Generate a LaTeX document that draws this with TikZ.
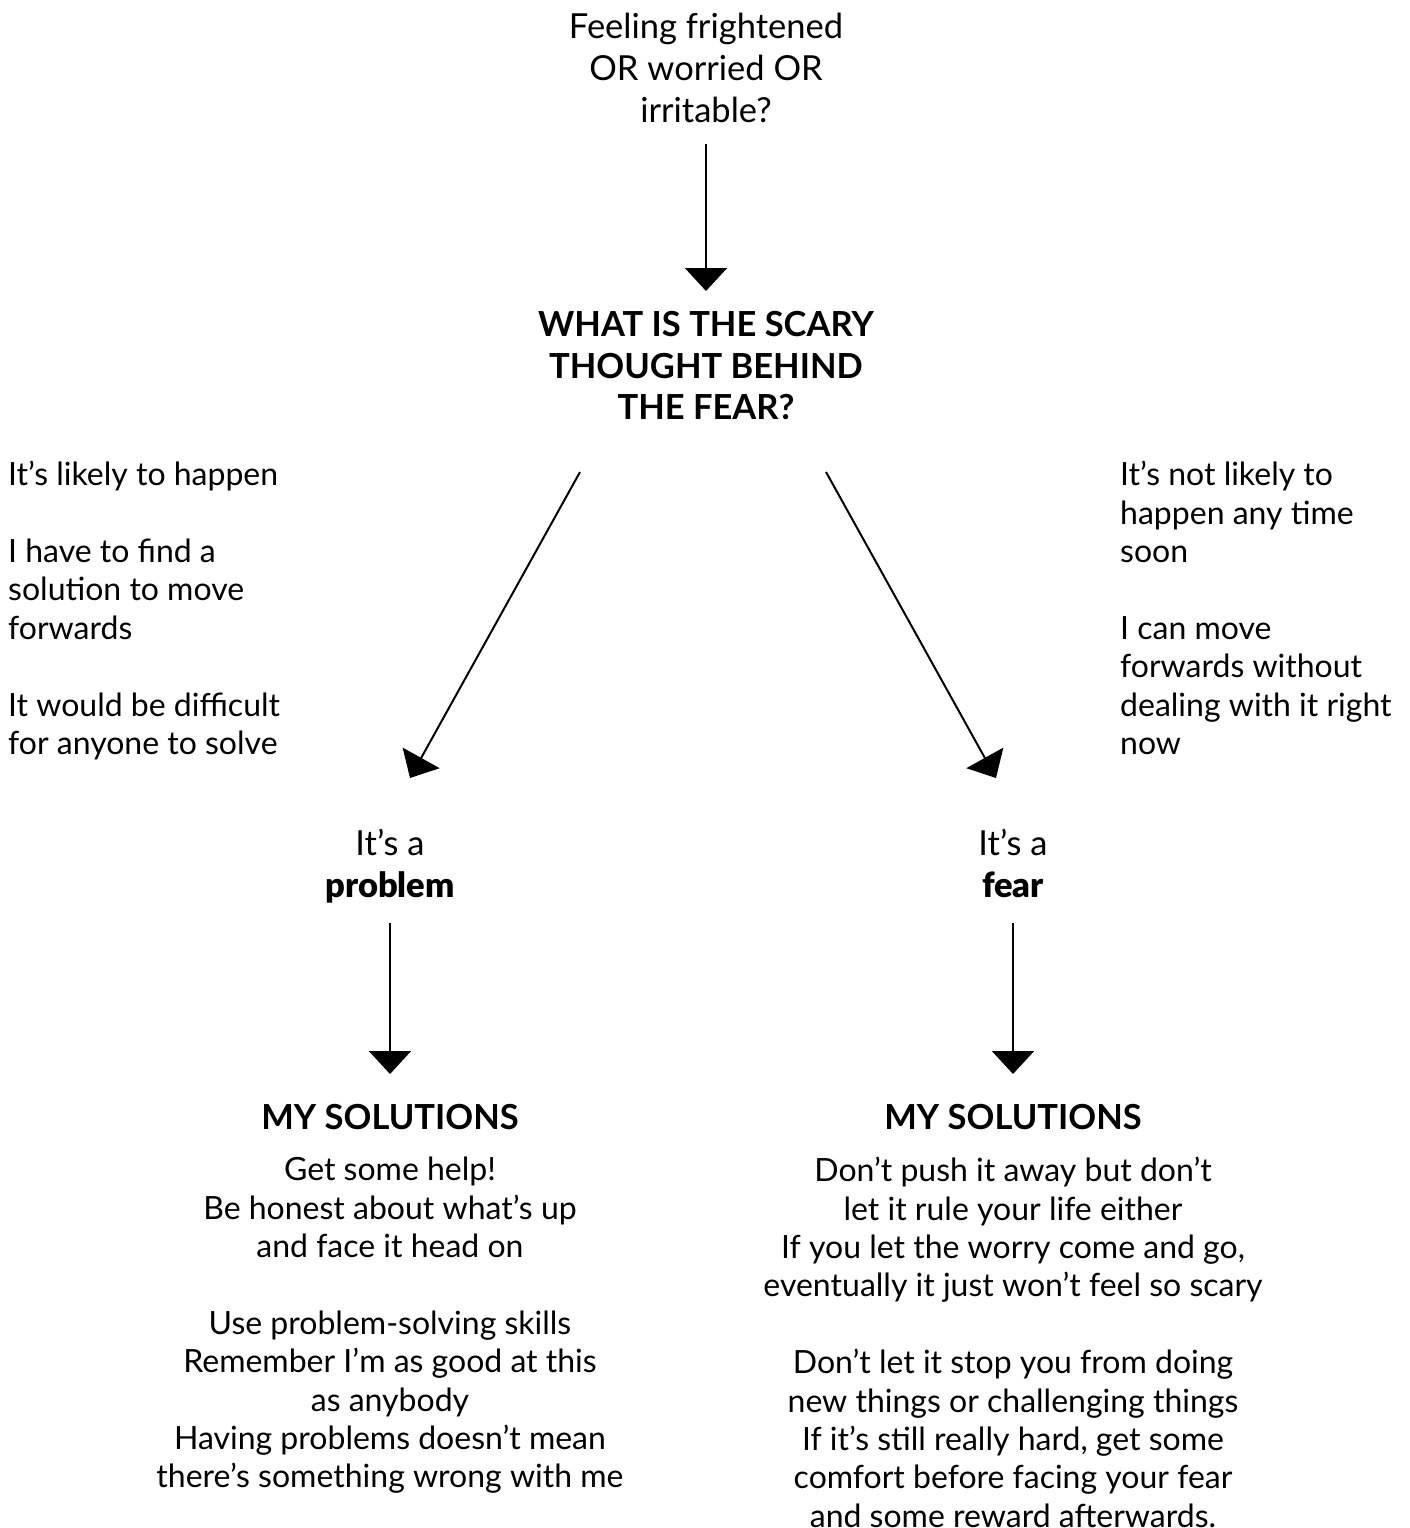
\documentclass[tikz,border=0pt]{standalone}
\usepackage{fontspec}
\setmainfont{Lato}
\newfontfamily\latoblack{Lato Black}
\usetikzlibrary{arrows.meta}
\tikzstyle{txt}=[inner sep=0pt,font=\fontsize{32}{38.4}\selectfont]
\tikzstyle{ctxt}=[txt,align=center,anchor=north]
\tikzstyle{ltxt}=[txt,align=left,anchor=north west]
\tikzstyle{big}=[inner sep=0pt,align=center,anchor=north,font=\fontsize{34.5}{41.7}\selectfont]
\tikzstyle{head}=[big,font=\fontsize{34.5}{41.7}\selectfont\bfseries]
\tikzstyle{arr}=[line width=2pt,-{Triangle[width=42pt,length=23pt]}]

\begin{document}
\begin{tikzpicture}[x=1pt,y=-1pt]
  \useasboundingbox (0,0) rectangle (1410,1528);

  \node[big] (feel) at (706,13)
       {Feeling frightened\\OR worried OR\\irritable?};
  \node[head] (scary) at (706,311)
       {WHAT IS THE SCARY\\THOUGHT BEHIND\\THE FEAR?};
  \draw[arr,shorten <=22pt,shorten >=20pt] (feel) -- (scary);

  \node[ltxt] (likely) at (8,461)
       {It’s likely to happen\\[38.4pt]I have to find a\\solution to move\\forwards\\[38.4pt]It would be difficult\\for anyone to solve};
  \node[ltxt] (notlikely) at (1120,461)
       {It’s not likely to\\happen any time\\soon\\[38.4pt]I can move\\forwards without\\dealing with it right\\now};

  \node[big] (prob) at (390,829) {It’s a\\{\latoblack problem}};
  \node[big] (fear) at (1013,829) {It’s a\\{\latoblack fear}};

  \coordinate (ls) at (580,472);
  \coordinate (lt) at (410,778);
  \coordinate (rs) at (826,472);
  \coordinate (rt) at (996,778);
  \draw[arr] (ls) -- (lt);
  \draw[arr] (rs) -- (rt);

  \node[head] (solp) at (390,1104) {MY SOLUTIONS};
  \node[head] (solf) at (1013,1104) {MY SOLUTIONS};
  \draw[arr,shorten <=20pt,shorten >=30pt] (prob) -- (solp);
  \draw[arr,shorten <=25pt,shorten >=30pt] (fear) -- (solf);

  \node[ctxt] (helpp) at (390,1157)
       {Get some help!\\Be honest about what’s up\\and face it head on\\[38.4pt]Use problem-solving skills\\Remember I’m as good at this\\as anybody\\Having problems doesn’t mean\\there’s something wrong with me};
  \node[ctxt] (helpf) at (1013,1157)
       {Don’t push it away but don’t\\let it rule your life either\\If you let the worry come and go,\\eventually it just won’t feel so scary\\[38.4pt]Don’t let it stop you from doing\\new things or challenging things\\If it’s still really hard, get some\\comfort before facing your fear\\and some reward afterwards.};
\end{tikzpicture}
\end{document}
